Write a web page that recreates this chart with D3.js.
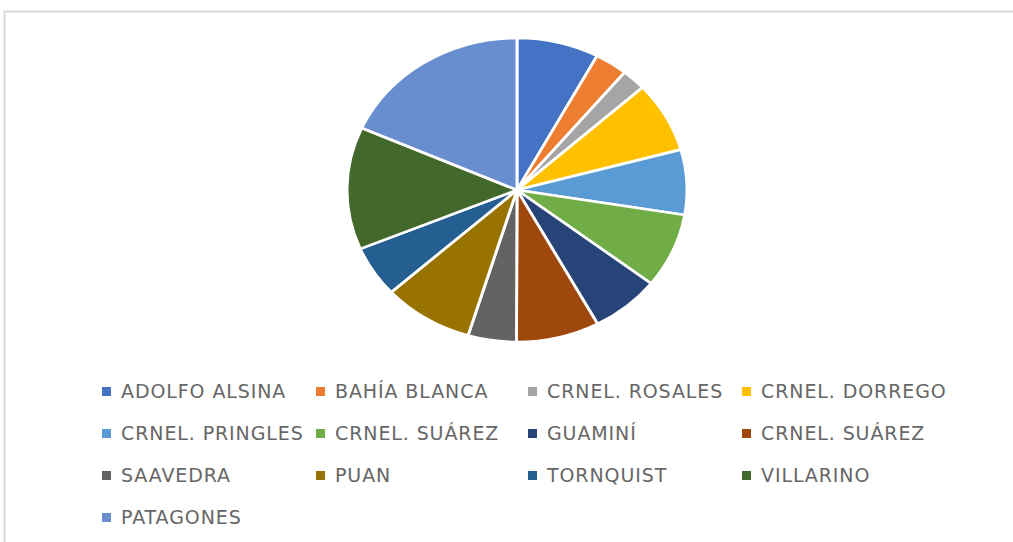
<!DOCTYPE html>
<html>
<head>
<meta charset="utf-8">
<script src="https://cdn.jsdelivr.net/npm/d3@7"></script>
<style>
  body { margin: 0; background: #fff; }
  svg { display: block; }
</style>
</head>
<body>
<div class="box"></div>
<script>
// données (part en %)
const partidos = ['ADOLFO ALSINA', 'BAHÍA BLANCA', 'CRNEL. ROSALES', 'CRNEL. DORREGO',
                  'CRNEL. PRINGLES', 'CRNEL. SUÁREZ', 'GUAMINÍ', 'CRNEL. SUÁREZ',
                  'SAAVEDRA', 'PUAN', 'TORNQUIST', 'VILLARINO', 'PATAGONES'];
const valores = [7.8, 3.1, 2.3, 7.5, 6.9, 7.9, 6.6, 7.9, 4.6, 8.6, 5.4, 13.0, 18.3];
const colores = ['#4472C4', '#ED7D31', '#A5A5A5', '#FFC000', '#5B9BD5', '#70AD47',
                 '#264478', '#9E480E', '#636363', '#997300', '#255E91', '#43682B', '#698ED0'];

const donnee = partidos.map((nom, i) => ({nom, valor: valores[i], i}));

const dims = {width: 1013, height: 542, rx: 170, ry: 152, cx: 517, cy: 190};

const svg = d3.select('.box')
              .append('svg')
              .attr('width', dims.width)
              .attr('height', dims.height);

// cadre
svg.append('rect')
   .attr('x', 4.5).attr('y', 11.5)
   .attr('width', 1100).attr('height', 600)
   .attr('fill', 'none')
   .attr('stroke', '#d9d9d9')
   .attr('stroke-width', 2);

const couleur = d3.scaleOrdinal()
                  .domain(d3.range(partidos.length))
                  .range(colores);

const pie = d3.pie()
              .sort(null)
              .value(d => d.valor);

const arcPath = d3.arc()
                  .outerRadius(dims.ry)
                  .innerRadius(0);

// le camembert est un peu étiré en largeur
const graph = svg.append('g')
                 .attr('transform', `translate(${dims.cx}, ${dims.cy}) scale(${dims.rx / dims.ry}, 1)`);

graph.selectAll('path')
     .data(pie(donnee))
     .enter()
     .append('path')
     .attr('d', arcPath)
     .attr('fill', d => couleur(d.data.i))
     .attr('stroke', '#fff')
     .attr('stroke-width', 2.6)
     .attr('stroke-linejoin', 'round');

// légende : 4 colonnes
const cols = d3.scaleOrdinal().domain([0, 1, 2, 3]).range([102, 316, 528, 742]);
const rows = d3.scaleLinear().domain([0, 1]).range([391.5, 433.5]);

const legende = svg.append('g')
                   .selectAll('g')
                   .data(donnee)
                   .enter()
                   .append('g')
                   .attr('transform', d => `translate(${cols(d.i % 4)}, ${rows(Math.floor(d.i / 4))})`);

legende.append('rect')
       .attr('x', 0).attr('y', -4.5)
       .attr('width', 9).attr('height', 9)
       .attr('fill', d => couleur(d.i));

legende.append('text')
       .attr('x', 19)
       .attr('dy', '0.36em')
       .attr('font-family', '"DejaVu Sans", sans-serif')
       .attr('font-size', 19)
       .attr('letter-spacing', 0.9)
       .attr('fill', '#666666')
       .text(d => d.nom);
</script>
</body>
</html>
